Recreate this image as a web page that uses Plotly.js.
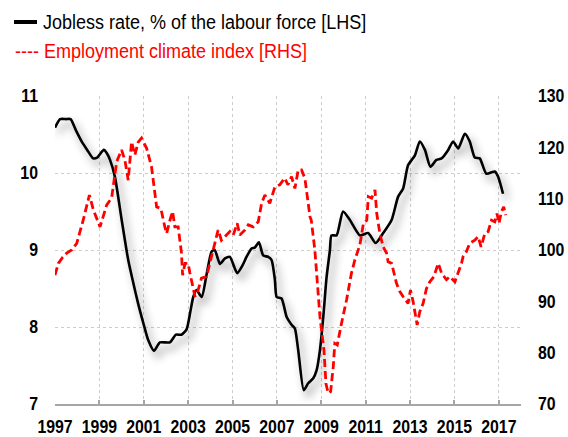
<!DOCTYPE html>
<html><head><meta charset="utf-8">
<script src="https://cdn.plot.ly/plotly-3.0.1.min.js"></script>
<style>html,body{margin:0;padding:0;background:#fff}#chart{width:568px;height:437px}</style>
</head><body><div id="chart"></div>
<script>
// Jobless rate, % of labour force (LHS)
const joblessYears = [1997.0,1997.23,1997.5,1997.7,1997.95,1998.2,1998.45,1998.72,1998.9,1999.2,1999.35,1999.48,1999.7,2000.0,2000.3,2000.53,2000.75,2000.98,2001.2,2001.46,2001.73,2002.18,2002.45,2002.7,2002.93,2003.1,2003.23,2003.38,2003.61,2003.83,2004.06,2004.2,2004.43,2004.66,2004.88,2005.21,2005.45,2005.63,2005.86,2006.0,2006.19,2006.38,2006.61,2006.76,2006.91,2006.99,2007.21,2007.44,2007.66,2007.81,2007.96,2008.21,2008.41,2008.63,2008.79,2008.94,2009.09,2009.24,2009.39,2009.46,2009.69,2009.98,2010.29,2010.74,2011.11,2011.45,2011.79,2012.17,2012.46,2012.69,2012.91,2013.22,2013.44,2013.67,2013.92,2014.19,2014.42,2014.72,2014.94,2015.17,2015.47,2015.69,2015.92,2016.14,2016.44,2016.82,2016.97,2017.19];
const joblessRate = [10.59,10.70,10.70,10.70,10.55,10.41,10.30,10.19,10.20,10.30,10.25,10.17,9.95,9.40,8.87,8.57,8.30,8.05,7.83,7.69,7.80,7.80,7.90,7.90,7.97,8.20,8.39,8.48,8.39,8.68,8.98,9.00,8.82,8.89,8.91,8.70,8.80,8.91,9.02,9.03,9.10,8.93,8.91,8.87,8.61,8.39,8.37,8.13,8.03,7.98,7.70,7.18,7.27,7.33,7.44,7.70,8.13,8.65,9.00,9.19,9.19,9.50,9.39,9.19,9.22,9.09,9.22,9.39,9.69,9.80,10.10,10.23,10.41,10.30,10.08,10.17,10.19,10.30,10.41,10.32,10.51,10.41,10.20,10.19,9.99,10.02,9.95,9.73];

// Employment climate index (RHS)
const climateYears = [1997.0,1997.15,1997.35,1997.53,1997.75,1997.98,1998.27,1998.55,1998.73,1999.03,1999.33,1999.55,1999.78,2000.0,2000.15,2000.3,2000.45,2000.6,2000.75,2000.9,2001.13,2001.35,2001.58,2001.77,2001.95,2002.03,2002.18,2002.3,2002.4,2002.55,2002.7,2002.75,2002.86,2003.0,2003.08,2003.31,2003.45,2003.6,2003.83,2003.98,2004.13,2004.2,2004.35,2004.5,2004.73,2004.88,2005.03,2005.21,2005.33,2005.56,2005.71,2005.93,2006.16,2006.31,2006.46,2006.68,2006.91,2007.13,2007.35,2007.5,2007.66,2007.81,2007.96,2008.11,2008.26,2008.49,2008.55,2008.71,2008.94,2009.12,2009.21,2009.31,2009.42,2009.54,2009.61,2009.72,2009.91,2010.14,2010.36,2010.51,2010.74,2010.9,2011.05,2011.12,2011.27,2011.42,2011.5,2011.64,2011.79,2011.94,2012.01,2012.17,2012.39,2012.54,2012.69,2012.91,2013.02,2013.14,2013.32,2013.44,2013.59,2013.74,2013.89,2014.07,2014.27,2014.42,2014.64,2014.79,2015.02,2015.17,2015.32,2015.39,2015.54,2015.69,2015.92,2016.07,2016.2,2016.37,2016.52,2016.67,2016.82,2016.92,2017.01,2017.12,2017.22,2017.31];
const climateIndex = [95.1,97.4,98.6,99.4,100.0,101.3,105.8,110.7,107.8,104.5,108.8,110.1,117.2,119.5,117.5,113.6,121.1,118.5,121.0,121.8,119.8,116.2,108.4,108.1,104.5,103.2,105.8,107.5,104.5,104.5,99.4,95.1,97.4,97.4,95.5,90.9,92.2,94.5,94.8,97.4,100.0,101.3,103.9,101.9,102.9,103.6,102.9,105.2,102.9,103.9,104.9,104.5,105.5,109.1,110.7,109.1,112.3,112.7,114.0,112.7,114.3,112.0,115.6,115.6,114.0,106.5,105.8,100.0,87.0,80.5,74.0,72.1,72.4,77.3,81.8,81.5,85.7,90.3,95.5,98.0,101.0,105.2,105.8,110.4,110.1,111.7,107.1,103.2,100.6,99.4,97.7,97.4,93.5,91.9,90.9,89.6,92.2,89.9,85.4,88.0,89.6,92.5,93.8,94.8,97.4,95.5,94.2,94.8,93.8,95.5,97.4,98.7,99.7,101.3,101.9,102.6,100.6,103.2,103.6,105.8,105.5,107.1,105.2,107.5,108.4,106.8];

const xTicks = [1997,1999,2001,2003,2005,2007,2009,2011,2013,2015,2017];
const leftTicks = [7,8,9,10,11];
const rightTicks = [70,80,90,100,110,120,130];

const FONT = '"Liberation Sans",Arial,sans-serif';

const traces = [
  {x: joblessYears, y: joblessRate, type:'scatter', mode:'lines', yaxis:'y',
   line:{color:'#000000', width:2.6, shape:'spline', smoothing:0.6}, name:'Jobless', hoverinfo:'skip'},
  {x: climateYears, y: climateIndex, type:'scatter', mode:'lines', yaxis:'y2',
   line:{color:'#ff0000', width:2.8, dash:'8px,4px'}, name:'Climate', hoverinfo:'skip'}
];

const tickFont = {family:FONT, size:18, weight:700, color:'#000'};
const layout = {
  width:568, height:437,
  margin:{l:55, r:47, t:96, b:33, pad:0},
  paper_bgcolor:'#ffffff', plot_bgcolor:'#ffffff',
  showlegend:false,
  font:{family:FONT, color:'#000'},
  xaxis:{range:[1997,2018], tickvals:xTicks, ticktext:xTicks.map(String), tickangle:0,
    showgrid:true, gridcolor:'#cccccc', griddash:'dot', gridwidth:1,
    showline:true, linecolor:'#a6a6a6', linewidth:2,
    ticks:'inside', ticklen:4, tickwidth:2, tickcolor:'#a6a6a6',
    zeroline:false, automargin:false, ticklabelstandoff:5, tickfont:tickFont},
  yaxis:{range:[7,11], tickvals:leftTicks, ticktext:leftTicks.map(String),
    showgrid:true, gridcolor:'#cccccc', griddash:'dot', gridwidth:1,
    showline:false, ticks:'', zeroline:false, automargin:false, ticklabelstandoff:16, tickfont:tickFont},
  yaxis2:{range:[70,130], overlaying:'y', side:'right', tickvals:rightTicks, ticktext:rightTicks.map(String),
    showgrid:false, showline:false, ticks:'', zeroline:false, automargin:false, ticklabelstandoff:16, tickfont:tickFont},
  shapes:[
    {type:'line', xref:'paper', yref:'paper', x0:(14-55)/466, x1:(37-55)/466, y0:(404-22)/308, y1:(404-22)/308,
     line:{color:'#000', width:4}}
  ],
  annotations:[
    {xref:'paper', yref:'paper', x:(41-55)/466, y:(404-22)/308, xanchor:'left', yanchor:'middle', showarrow:false,
     text:'Jobless rate, % of the labour force [LHS]', font:{family:FONT, size:20, color:'#000'}},
    {xref:'paper', yref:'paper', x:(13-55)/466, y:(404-51)/308, xanchor:'left', yanchor:'middle', showarrow:false,
     text:'---- Employment climate index [RHS]', font:{family:FONT, size:20, color:'#ff0000'}}
  ]
};

function condense(el, factor, keep){
  const b0 = el.getBBox();
  const len = el.getComputedTextLength();
  el.setAttribute('lengthAdjust','spacingAndGlyphs');
  el.setAttribute('textLength', (len*factor).toFixed(2));
  if (keep) {
    const b1 = el.getBBox();
    const dx = keep==='left' ? (b0.x - b1.x) : ((b0.x+b0.width) - (b1.x+b1.width));
    const cur = parseFloat(el.getAttribute('x')||'0');
    el.setAttribute('x', (cur+dx).toFixed(2));
    el.querySelectorAll('tspan[x]').forEach(function(t){
      t.setAttribute('x', (parseFloat(t.getAttribute('x'))+dx).toFixed(2));
    });
  }
}

Plotly.newPlot('chart', traces, layout, {staticPlot:true, displayModeBar:false}).then(function(){
  const gd = document.getElementById('chart');
  gd.querySelectorAll('.xtick text, .ytick text, .y2tick text').forEach(function(t){ condense(t, 0.88, null); });
  gd.querySelectorAll('.annotation-text').forEach(function(t){ condense(t, 0.9, 'left'); });
  gd.querySelectorAll('.scatterlayer .trace').forEach(function(t){
    const p = t.querySelector('path.js-line');
    if (p && /0, 0, 0|#000000/.test(p.style.stroke)) {
      p.style.filter = 'drop-shadow(4px 6px 4px rgba(0,0,0,0.45))';
    }
  });
});
</script></body></html>
